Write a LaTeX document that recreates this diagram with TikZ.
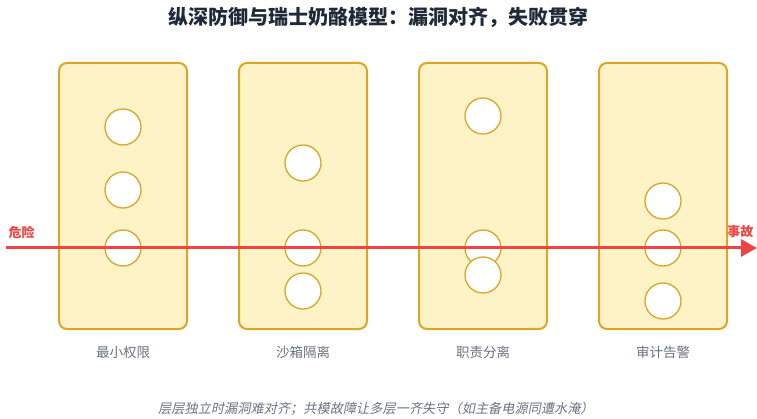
\documentclass[tikz,border=0pt]{standalone}
\usepackage{fontspec}
\setmainfont{Noto Sans CJK SC}
\newfontfamily\cjkit[FakeSlant=0.2]{Noto Sans CJK SC}
\usetikzlibrary{arrows.meta}
\definecolor{panelfill}{HTML}{FEF3C7}
\definecolor{panelline}{HTML}{DCA526}
\definecolor{hazard}{HTML}{EF4444}
\definecolor{labelgray}{HTML}{6B7280}
\definecolor{titlecol}{HTML}{1F2937}
\tikzset{
  panel/.style={draw=panelline, fill=panelfill, line width=2pt, rounded corners=8pt, minimum width=128pt, minimum height=266pt, inner sep=0pt},
  hole/.style={circle, draw=panelline, fill=white, line width=1.3pt, minimum size=36pt, inner sep=0pt},
  plabel/.style={text=labelgray, font=\fontsize{13.5}{16}\selectfont},
}
\begin{document}
\begin{tikzpicture}[x=1pt, y=-1pt]
\useasboundingbox (0,0) rectangle (757,419);
\node[font=\fontsize{20}{24}\selectfont\bfseries, text=titlecol] (title) at (378,17) {纵深防御与瑞士奶酪模型：漏洞对齐，失败贯穿};
% panels
\node[panel] (p1) at (123,196) {};
\node[panel] (p2) at (303,196) {};
\node[panel] (p3) at (483,196) {};
\node[panel] (p4) at (663,196) {};
% holes
\node[hole] (h11) at (123,127) {};
\node[hole] (h12) at (123,190) {};
\node[hole] (h13) at (123,248) {};
\node[hole] (h21) at (303,163) {};
\node[hole] (h22) at (303,248) {};
\node[hole] (h23) at (303,291) {};
\node[hole] (h31) at (483,116) {};
\node[hole] (h32) at (483,248) {};
\node[hole] (h33) at (483,275) {};
\node[hole] (h41) at (663,201) {};
\node[hole] (h42) at (663,248) {};
\node[hole] (h43) at (663,301) {};
% labels
\node[plabel] (l1) at (123,352) {最小权限};
\node[plabel] (l2) at (303,352) {沙箱隔离};
\node[plabel] (l3) at (483,352) {职责分离};
\node[plabel] (l4) at (663,352) {审计告警};
% arrow
\coordinate (start) at (6,248);
\coordinate (end) at (757,248);
\draw[hazard, line width=3pt, -{Triangle[length=16pt, width=17pt]}] (start) -- (end);
\node[text=hazard, font=\fontsize{13}{16}\selectfont\bfseries, anchor=west] (haz) at (5,232) {危险};
\node[text=hazard, font=\fontsize{13}{16}\selectfont\bfseries, anchor=east] (acc) at (757,232) {事故};
\node[text=labelgray, font=\fontsize{13.2}{16}\selectfont\cjkit] (cap) at (376,409) {层层独立时漏洞难对齐；共模故障让多层一齐失守（如主备电源同遭水淹）};
\end{tikzpicture}
\end{document}
